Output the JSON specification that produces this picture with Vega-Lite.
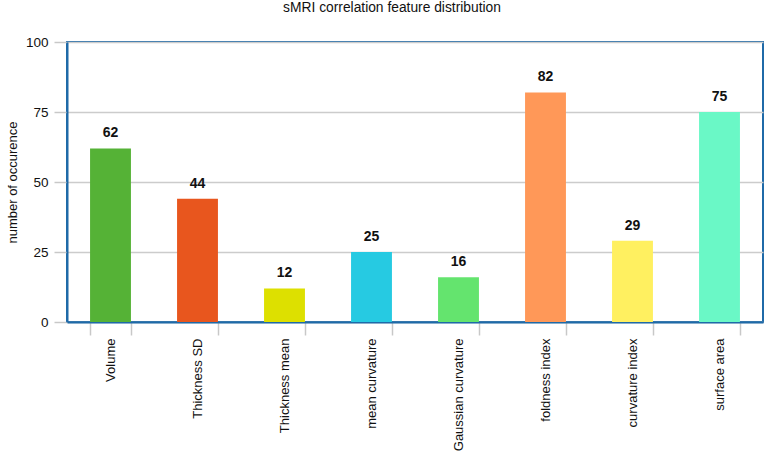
{
  "$schema": "https://vega.github.io/schema/vega-lite/v6.json",
  "width": 696,
  "height": 280,
  "autosize": "none",
  "padding": {"left": 67, "top": 42, "right": 9, "bottom": 132},
  "background": "white",
  "title": {
    "text": "sMRI correlation feature distribution",
    "font": "Liberation Sans",
    "fontSize": 13.8,
    "fontWeight": "normal",
    "color": "#111111",
    "offset": 20,
    "dx": -23
  },
  "config": {
    "font": "Liberation Sans",
    "view": {"stroke": "#1f6aa8", "strokeWidth": 2}
  },
  "data": {
    "values": [
      {"feature": "Volume", "count": 62, "colour": "#55b236"},
      {"feature": "Thickness SD", "count": 44, "colour": "#e8561e"},
      {"feature": "Thickness mean", "count": 12, "colour": "#dde000"},
      {"feature": "mean curvature", "count": 25, "colour": "#26cae2"},
      {"feature": "Gaussian curvature", "count": 16, "colour": "#64e46e"},
      {"feature": "foldness index", "count": 82, "colour": "#ff9858"},
      {"feature": "curvature index", "count": 29, "colour": "#fff060"},
      {"feature": "surface area", "count": 75, "colour": "#6af8c6"}
    ]
  },
  "encoding": {
    "x": {
      "field": "feature",
      "type": "nominal",
      "sort": null,
      "scale": {"paddingInner": 0.53, "paddingOuter": 0.265},
      "axis": {
        "title": null,
        "labelAngle": -90,
        "labelFontSize": 13,
        "labelColor": "#111111",
        "labelPadding": 3,
        "tickBand": "extent",
        "tickSize": 13,
        "tickColor": "#c8c8c8",
        "tickWidth": 1.5,
        "domainColor": "#1f6aa8",
        "domainWidth": 2
      }
    },
    "y": {
      "field": "count",
      "type": "quantitative",
      "scale": {"domain": [0, 100], "nice": false},
      "axis": {
        "title": "number of occurence",
        "titleFontSize": 13,
        "titleFontWeight": "normal",
        "titleColor": "#111111",
        "titlePadding": 6,
        "values": [0, 25, 50, 75, 100],
        "labelFontSize": 13.5,
        "labelColor": "#111111",
        "labelPadding": 6,
        "tickSize": 13,
        "tickColor": "#c8c8c8",
        "tickWidth": 1.5,
        "gridColor": "#cccccc",
        "gridWidth": 1.5,
        "domainColor": "#1f6aa8",
        "domainWidth": 2
      }
    }
  },
  "layer": [
    {
      "mark": {"type": "bar"},
      "encoding": {
        "color": {"field": "colour", "type": "nominal", "scale": null}
      }
    },
    {
      "mark": {"type": "text", "dy": -8, "baseline": "bottom", "fontSize": 14, "fontWeight": "bold", "color": "#111111"},
      "encoding": {
        "text": {"field": "count", "type": "quantitative"}
      }
    }
  ]
}
